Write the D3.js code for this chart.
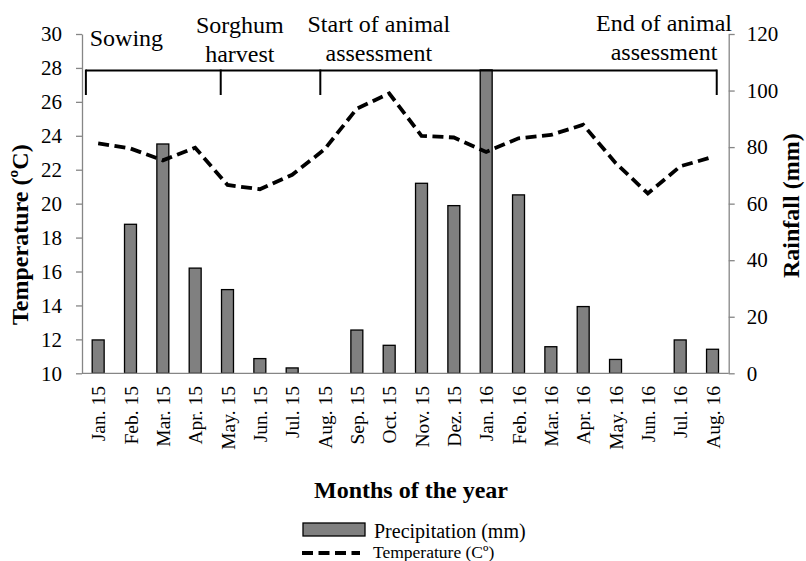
<!DOCTYPE html>
<html>
<head>
<meta charset="utf-8">
<script src="https://cdn.jsdelivr.net/npm/d3@7"></script>
<style>
  body { margin: 0; background: #fff; }
  svg, svg text { font-family: "Liberation Serif", "Times New Roman", serif; }
  svg { display: block; }
</style>
</head>
<body>
<svg id="chart" width="806" height="561" font-family="Liberation Serif"></svg>
<script>
// ---------- DATA ----------
const months = ["Jan. 15","Feb. 15","Mar. 15","Apr. 15","May. 15","Jun. 15","Jul. 15","Aug. 15",
  "Sep. 15","Oct. 15","Nov. 15","Dez. 15","Jan. 16","Feb. 16","Mar. 16","Apr. 16",
  "May. 16","Jun. 16","Jul. 16","Aug. 16"];
const precipitation = [11.8, 52.7, 81.1, 37.2, 29.6, 5.2, 1.9, 0, 15.3, 9.9, 67.2, 59.3,
  107.3, 63.1, 9.4, 23.6, 4.9, 0, 11.8, 8.5];
const temperature = [23.55, 23.25, 22.55, 23.3, 21.1, 20.85, 21.7, 23.2, 25.6, 26.5, 24.0, 23.9,
  23.05, 23.85, 24.05, 24.65, 22.4, 20.6, 22.2, 22.75];
const tempTicks = [10, 12, 14, 16, 18, 20, 22, 24, 26, 28, 30];
const rainTicks = [0, 20, 40, 60, 80, 100, 120];
// annotation bracket positions, in month-index units
const bracketTicks = [-0.38, 3.79, 6.87, 19.13];
const annotations = [
  { lines: ["Sowing"], pos: -0.26, anchor: "start", base: 46 },
  { lines: ["Sorghum", "harvest"], pos: 4.38, anchor: "middle", base: 33 },
  { lines: ["Start of animal", "assessment"], pos: 8.68, anchor: "middle", base: 32 },
  { lines: ["End of animal", "assessment"], pos: 17.5, anchor: "middle", base: 31 }
];

// ---------- LAYOUT ----------
const svg = d3.select("#chart");
const mLeft = 82, mRight = 728.7, mTop = 34, mBottom = 373.3;
const axisColor = "#868686";
const FONT = "Liberation Serif";

const x = d3.scaleBand().domain(months).range([mLeft, mRight]).paddingInner(0.63).paddingOuter(0.315);
const cx = m => x(m) + x.bandwidth() / 2;
const xi = d3.scaleLinear().domain([0, months.length - 1]).range([cx(months[0]), cx(months[months.length - 1])]);
const yT = d3.scaleLinear().domain([10, 30]).range([mBottom, mTop]);
const yR = d3.scaleLinear().domain([0, 120]).range([mBottom, mTop]);

svg.append("rect").attr("width", 806).attr("height", 561).attr("fill", "#fff");

// bars
svg.append("g").selectAll("rect")
  .data(months.map((m, i) => ({ m, v: precipitation[i] })).filter(d => d.v > 0))
  .join("rect")
  .attr("x", d => x(d.m))
  .attr("y", d => yR(d.v))
  .attr("width", x.bandwidth())
  .attr("height", d => yR(0) - yR(d.v))
  .attr("fill", "#808080")
  .attr("stroke", "#000")
  .attr("stroke-width", 1.3);

// left axis
const gL = svg.append("g").attr("transform", `translate(${mLeft},0)`)
  .call(d3.axisLeft(yT).tickValues(tempTicks).tickSize(6).tickSizeOuter(0).tickPadding(14).tickFormat(d3.format("d")));
gL.attr("font-family", FONT);
gL.select(".domain").attr("stroke", axisColor).attr("stroke-width", 1.3);
gL.selectAll(".tick line").attr("stroke", axisColor).attr("stroke-width", 1.3);
gL.selectAll(".tick text").attr("font-size", 21).attr("font-family", FONT).attr("fill", "#000");

// right axis
const gR = svg.append("g").attr("transform", `translate(${mRight},0)`)
  .call(d3.axisRight(yR).tickValues(rainTicks).tickSize(6).tickSizeOuter(0).tickPadding(12).tickFormat(d3.format("d")));
gR.attr("font-family", FONT);
gR.select(".domain").attr("stroke", axisColor).attr("stroke-width", 1.3);
gR.selectAll(".tick line").attr("stroke", axisColor).attr("stroke-width", 1.3);
gR.selectAll(".tick text").attr("font-size", 21).attr("font-family", FONT).attr("fill", "#000");

// bottom axis line
svg.append("line").attr("x1", mLeft).attr("x2", mRight).attr("y1", mBottom).attr("y2", mBottom)
  .attr("stroke", axisColor).attr("stroke-width", 1.3);

// x tick labels
svg.append("g").selectAll("text").data(months).join("text")
  .attr("transform", d => `translate(${cx(d) + 7},386) rotate(-90)`)
  .attr("text-anchor", "end")
  .attr("font-family", FONT)
  .attr("font-size", 19.5)
  .attr("fill", "#000")
  .text(d => d);

// temperature line
const line = d3.line().x((d, i) => cx(months[i])).y(d => yT(d));
svg.append("path").datum(temperature)
  .attr("d", line)
  .attr("fill", "none")
  .attr("stroke", "#000")
  .attr("stroke-width", 3.8)
  .attr("stroke-dasharray", "11,5.5");

// bracket
const bracketY = 70.5, bracketEnd = 95;
svg.append("line")
  .attr("x1", xi(bracketTicks[0])).attr("x2", xi(bracketTicks[bracketTicks.length - 1]))
  .attr("y1", bracketY).attr("y2", bracketY)
  .attr("stroke", "#000").attr("stroke-width", 2);
svg.append("g").selectAll("line").data(bracketTicks).join("line")
  .attr("x1", d => xi(d)).attr("x2", d => xi(d))
  .attr("y1", bracketY - 1).attr("y2", bracketEnd)
  .attr("stroke", "#000").attr("stroke-width", 2);

// annotations
annotations.forEach(a => {
  const t = svg.append("text")
    .attr("x", xi(a.pos)).attr("y", a.base)
    .attr("text-anchor", a.anchor)
    .attr("font-family", FONT)
    .attr("font-size", 24).attr("fill", "#000");
  a.lines.forEach((l, k) => {
    t.append("tspan").attr("x", xi(a.pos)).attr("dy", k === 0 ? 0 : 29).text(l);
  });
});

// axis titles
svg.append("text")
  .attr("transform", `translate(27.5,${(mTop + mBottom) / 2 + 31}) rotate(-90)`)
  .attr("text-anchor", "middle").attr("font-family", FONT).attr("font-size", 24).attr("font-weight", "bold")
  .text("Temperature (ºC)");
svg.append("text")
  .attr("transform", `translate(799,${(mTop + mBottom) / 2 + 2}) rotate(-90)`)
  .attr("text-anchor", "middle").attr("font-family", FONT).attr("font-size", 24).attr("font-weight", "bold")
  .text("Rainfall (mm)");
svg.append("text")
  .attr("x", 411).attr("y", 498)
  .attr("text-anchor", "middle").attr("font-family", FONT).attr("font-size", 24).attr("font-weight", "bold")
  .text("Months of the year");

// legend
const lg = svg.append("g").attr("font-family", FONT);
lg.append("rect").attr("x", 303).attr("y", 523).attr("width", 62).attr("height", 13)
  .attr("fill", "#808080").attr("stroke", "#000").attr("stroke-width", 1.3);
lg.append("text").attr("x", 374).attr("y", 538).attr("font-size", 20).text("Precipitation (mm)");
lg.append("line").attr("x1", 302).attr("x2", 360).attr("y1", 553).attr("y2", 553)
  .attr("stroke", "#000").attr("stroke-width", 3.8).attr("stroke-dasharray", "11,5.5");
lg.append("text").attr("x", 373).attr("y", 558).attr("font-size", 17.5).text("Temperature (Cº)");
</script>
</body>
</html>
